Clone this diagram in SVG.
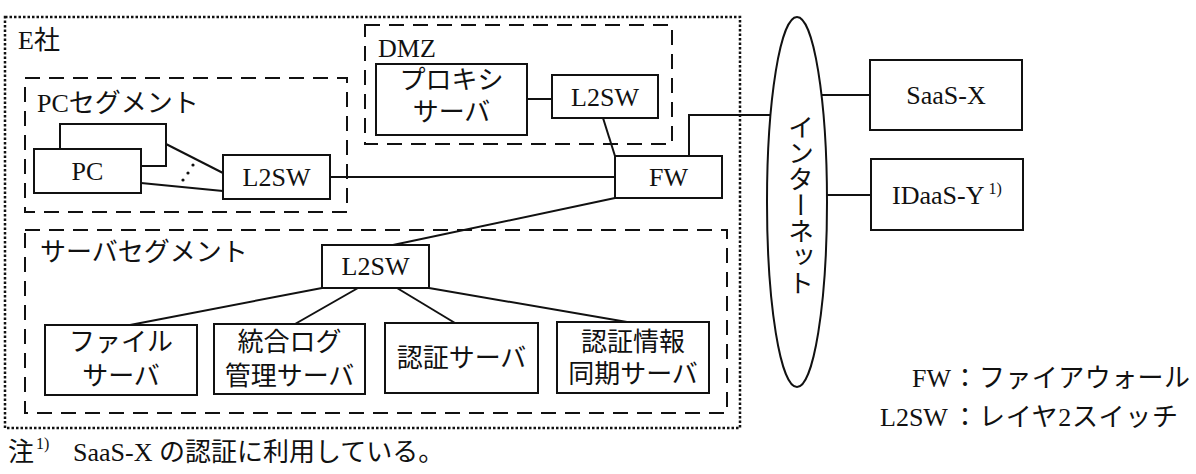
<svg xmlns="http://www.w3.org/2000/svg" width="1196" height="474" viewBox="0 0 1196 474">
<style>
text{font-family:"Liberation Serif","Noto Sans CJK JP",serif;font-size:26px;fill:#111}
.c{text-anchor:middle}
.box{fill:#fff;stroke:#111;stroke-width:2}
.dash{fill:none;stroke:#111;stroke-width:2;stroke-dasharray:15 9}
.dot{fill:none;stroke:#111;stroke-width:2.5;stroke-dasharray:2.5 2}
.ln{fill:none;stroke:#111;stroke-width:2}
.sup{font-size:16px}
</style>
<rect width="1196" height="474" fill="#fff"/>
<g id="e-company">
<rect class="dot" x="5" y="17" width="735" height="411"/>
<text x="18" y="49">E社</text>
</g>
<g id="pc-segment">
<rect class="dash" x="25" y="78" width="322" height="134"/>
<text x="37" y="112">PCセグメント</text>
</g>
<g id="dmz">
<rect class="dash" x="365" y="25" width="307" height="119"/>
<text x="378" y="57">DMZ</text>
</g>
<g id="server-segment">
<rect class="dash" x="25" y="230" width="702" height="183"/>
<text x="40" y="261">サーバセグメント</text>
</g>
<g id="connectors">
<line class="ln" x1="166" y1="144" x2="223" y2="173"/>
<line class="ln" x1="141" y1="183" x2="223" y2="191"/>
<g fill="#111">
<circle cx="145" cy="143" r="1.6"/><circle cx="152" cy="137" r="1.6"/><circle cx="158" cy="130" r="1.6"/>
<circle cx="183" cy="180" r="1.6"/><circle cx="188" cy="173" r="1.6"/><circle cx="193" cy="165" r="1.6"/>
</g>
<line class="ln" x1="330" y1="177" x2="615" y2="177"/>
<line class="ln" x1="527" y1="99" x2="552" y2="99"/>
<line class="ln" x1="603" y1="118" x2="615" y2="156"/>
<polyline class="ln" points="689,156 689,115 770,115"/>
<line class="ln" x1="615" y1="198" x2="393" y2="245"/>
<line class="ln" x1="322" y1="288" x2="130" y2="325"/>
<line class="ln" x1="358" y1="288" x2="295" y2="324"/>
<line class="ln" x1="397" y1="288" x2="455" y2="323"/>
<line class="ln" x1="429" y1="288" x2="627" y2="322"/>
<line class="ln" x1="822" y1="95" x2="870" y2="95"/>
<line class="ln" x1="827" y1="195" x2="871" y2="195"/>
</g>
<g id="pc">
<rect class="box" x="60" y="124" width="106" height="42"/>
<rect class="box" x="34" y="149" width="107" height="44"/>
<text class="c" x="87.5" y="180">PC</text>
</g>
<g id="pc-l2sw">
<rect class="box" x="223" y="155" width="107" height="44"/>
<text class="c" x="276.5" y="186">L2SW</text>
</g>
<g id="proxy">
<rect class="box" x="376" y="64" width="151" height="71"/>
<text class="c" x="451.5" y="89">プロキシ</text>
<text class="c" x="451.5" y="121">サーバ</text>
</g>
<g id="dmz-l2sw">
<rect class="box" x="552" y="75" width="106" height="43"/>
<text class="c" x="605" y="106">L2SW</text>
</g>
<g id="fw">
<rect class="box" x="615" y="156" width="107" height="42"/>
<text class="c" x="668.5" y="186">FW</text>
</g>
<g id="server-l2sw">
<rect class="box" x="322" y="245" width="107" height="43"/>
<text class="c" x="375.5" y="275">L2SW</text>
</g>
<g id="file-server">
<rect class="box" x="45" y="325" width="152" height="70"/>
<text class="c" x="121" y="351">ファイル</text>
<text class="c" x="121" y="385">サーバ</text>
</g>
<g id="log-server">
<rect class="box" x="214" y="324" width="151" height="70"/>
<text class="c" x="289.5" y="351">統合ログ</text>
<text class="c" x="289.5" y="385">管理サーバ</text>
</g>
<g id="auth-server">
<rect class="box" x="385" y="323" width="153" height="70"/>
<text class="c" x="461.5" y="367">認証サーバ</text>
</g>
<g id="sync-server">
<rect class="box" x="557" y="322" width="152" height="71"/>
<text class="c" x="633" y="351">認証情報</text>
<text class="c" x="633" y="383">同期サーバ</text>
</g>
<g id="internet">
<ellipse class="box" cx="797" cy="202" rx="30" ry="185"/>
<text class="c" x="798" y="205" style="writing-mode:vertical-rl">インターネット</text>
</g>
<g id="saas-x">
<rect class="box" x="870" y="60" width="152" height="70"/>
<text class="c" x="946" y="104">SaaS-X</text>
</g>
<g id="idaas-y">
<rect class="box" x="871" y="159" width="152" height="71"/>
<text x="892" y="204">IDaaS-Y<tspan class="sup" dx="4" dy="-10">1)</tspan></text>
</g>
<g id="legend">
<text x="912" y="387">FW<tspan x="952">：</tspan><tspan x="979" textLength="211">ファイアウォール</tspan></text>
<text x="880" y="426">L2SW<tspan x="952">：</tspan><tspan x="979" textLength="199">レイヤ2スイッチ</tspan></text>
</g>
<g id="note">
<text x="8" y="461">注<tspan class="sup" x="36" y="449">1)</tspan><tspan x="73" y="461">SaaS-X の認証に利用している。</tspan></text>
</g>
</svg>
